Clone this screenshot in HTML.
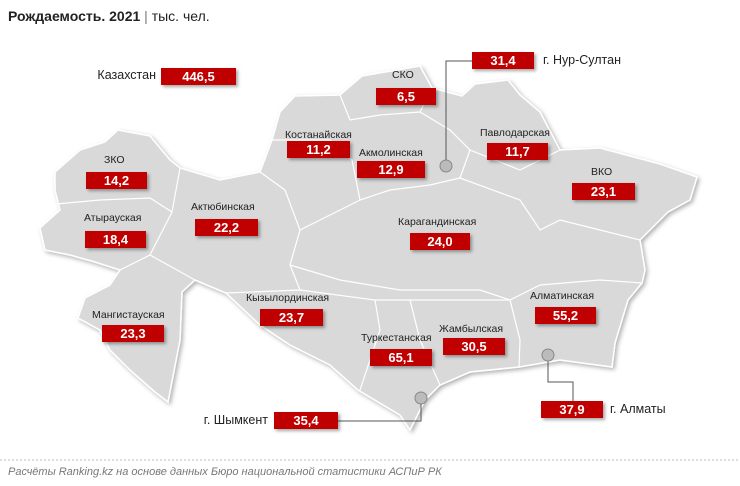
<!DOCTYPE html>
<html><head><meta charset="utf-8"><style>
body{margin:0;background:#fff;font-family:"Liberation Sans",sans-serif;}
#c{position:relative;width:740px;height:486px;overflow:hidden;}
.t{position:absolute;font-size:10.5px;color:#222;white-space:nowrap;}
.b{position:absolute;height:17px;background:#c00000;color:#fff;font-weight:bold;font-size:13px;line-height:17px;text-align:center;box-shadow:2px 2px 3px rgba(0,0,0,.35);}
.l{position:absolute;font-size:12.5px;color:#222;white-space:nowrap;}
</style></head><body><div id="c">
<svg width="740" height="486" style="position:absolute;left:0;top:0">
<defs><filter id="sh"><feDropShadow dx="2" dy="2" stdDeviation="2" flood-color="#000" flood-opacity=".3"/></filter></defs>
<path filter="url(#sh)" fill="#d9d9d9" stroke="#fff" stroke-width="1.5" d="M55,172 L80,150 L105,142 L118,130 L150,136 L170,160 L180,168 L220,180 L260,172 L272,140 L280,112 L295,96 L340,95 L362,76 L420,66 L432,88 L462,96 L475,84 L508,80 L520,95 L540,112 L560,150 L600,148 L660,164 L697,177 L690,200 L668,212 L640,240 L645,270 L642,283 L628,300 L615,343 L612,367 L560,360 L519,367 L470,372 L440,385 L425,400 L410,430 L400,415 L358,390 L330,365 L290,345 L260,325 L226,293 L195,280 L182,292 L180,340 L168,402 L155,392 L130,370 L110,350 L100,330 L78,318 L85,298 L110,285 L120,270 L95,262 L70,255 L45,250 L40,228 L60,210 L55,190 Z"/>
<g stroke="#fff" stroke-width="1.2" fill="none">
<path d="M45,205 L100,200 L150,198 L172,212 L180,168"/>
<path d="M120,270 L150,255 L172,212"/>
<path d="M150,255 L195,280"/>
<path d="M260,172 L285,190 L300,230 L290,265 L300,290 L226,293"/>
<path d="M300,230 L360,200 L390,190 L430,185 L460,178 L470,150"/>
<path d="M272,140 L330,140 L352,160 L360,200"/>
<path d="M340,95 L350,120 L380,115 L420,112 L432,88"/>
<path d="M420,112 L450,130 L470,150 L520,170 L560,150"/>
<path d="M460,178 L520,200 L540,230 L560,220 L600,230 L640,240"/>
<path d="M290,265 L340,280 L400,290 L480,290 L510,300 L540,285 L600,280 L642,283"/>
<path d="M300,290 L375,300 L380,330 L360,390"/>
<path d="M375,300 L410,300 L420,340 L440,385"/>
<path d="M410,300 L470,300 L510,300 L520,340 L519,367"/>
</g>
<g stroke="#555" stroke-width="1" fill="none">
<path d="M472,61 H446 V166"/><path d="M548,355 V382 H573 V401"/><path d="M421,398 V421 H338"/>
</g>
<g fill="#bbb" stroke="#888"><circle cx="446" cy="166" r="6"/><circle cx="548" cy="355" r="6"/><circle cx="421" cy="398" r="6"/></g>
<line x1="0" y1="460" x2="740" y2="460" stroke="#bbb" stroke-dasharray="2,2"/>
</svg>
<div style="position:absolute;left:8px;top:8px;font-size:14px;color:#222;"><b>Рождаемость. 2021</b> <span style="color:#777">|</span> тыс. чел.</div>
<div class="l" style="right:584px;top:68px">Казахстан</div><div class="b" style="left:161px;top:68px;width:75px">446,5</div>
<div class="l" style="left:543px;top:53px">г. Нур-Султан</div><div class="b" style="left:472px;top:52px;width:62px">31,4</div>
<div class="l" style="left:610px;top:402px">г. Алматы</div><div class="b" style="left:541px;top:401px;width:62px">37,9</div>
<div class="l" style="right:472px;top:413px">г. Шымкент</div><div class="b" style="left:274px;top:412px;width:64px">35,4</div>
<div class="t" style="left:392px;top:69px">СКО</div><div class="b" style="left:376px;top:88px;width:60px">6,5</div>
<div class="t" style="left:285px;top:129px">Костанайская</div><div class="b" style="left:287px;top:141px;width:63px">11,2</div>
<div class="t" style="left:359px;top:147px">Акмолинская</div><div class="b" style="left:357px;top:161px;width:68px">12,9</div>
<div class="t" style="left:480px;top:127px">Павлодарская</div><div class="b" style="left:487px;top:143px;width:61px">11,7</div>
<div class="t" style="left:104px;top:154px">ЗКО</div><div class="b" style="left:86px;top:172px;width:61px">14,2</div>
<div class="t" style="left:591px;top:166px">ВКО</div><div class="b" style="left:572px;top:183px;width:63px">23,1</div>
<div class="t" style="left:84px;top:212px">Атырауская</div><div class="b" style="left:85px;top:231px;width:61px">18,4</div>
<div class="t" style="left:191px;top:201px">Актюбинская</div><div class="b" style="left:195px;top:219px;width:63px">22,2</div>
<div class="t" style="left:398px;top:216px">Карагандинская</div><div class="b" style="left:410px;top:233px;width:60px">24,0</div>
<div class="t" style="left:246px;top:292px">Кызылординская</div><div class="b" style="left:260px;top:309px;width:63px">23,7</div>
<div class="t" style="left:530px;top:290px">Алматинская</div><div class="b" style="left:535px;top:307px;width:61px">55,2</div>
<div class="t" style="left:92px;top:309px">Мангистауская</div><div class="b" style="left:102px;top:325px;width:62px">23,3</div>
<div class="t" style="left:361px;top:332px">Туркестанская</div><div class="b" style="left:370px;top:349px;width:62px">65,1</div>
<div class="t" style="left:439px;top:323px">Жамбылская</div><div class="b" style="left:443px;top:338px;width:62px">30,5</div>
<div style="position:absolute;left:8px;top:466px;font-size:11px;font-style:italic;color:#777">Расчёты Ranking.kz на основе данных Бюро национальной статистики АСПиР РК</div>
</div></body></html>
